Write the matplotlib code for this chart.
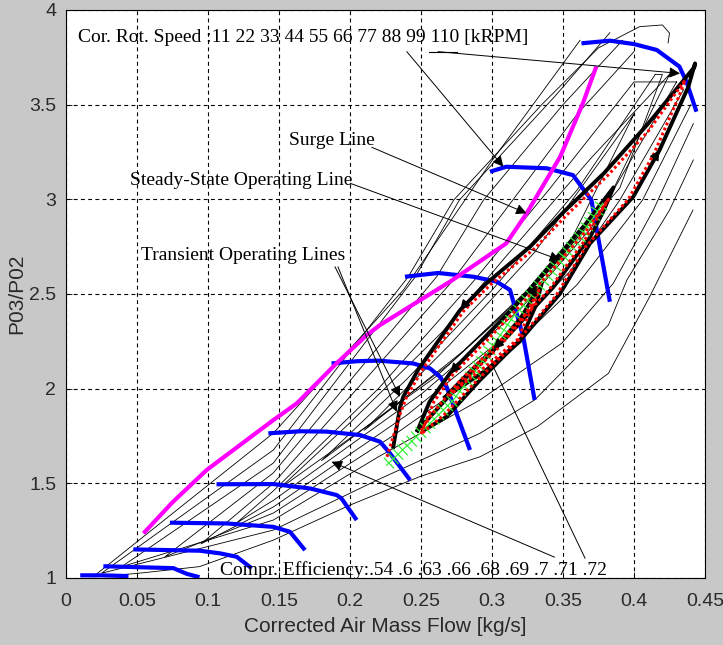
import matplotlib
matplotlib.use('Agg')
import matplotlib.pyplot as plt
import matplotlib.patheffects as pe

# compressor speed lines, 11 ... 110 kRPM
speed_labels = [11, 22, 33, 44, 55, 66, 77, 88, 99, 110]
speed_x = [
    [0.010, 0.025, 0.035, 0.044],
    [0.0263, 0.0756, 0.085, 0.094],
    [0.0474, 0.0944, 0.1085, 0.1202, 0.1308],
    [0.0732, 0.1132, 0.146, 0.1577, 0.1683],
    [0.106, 0.146, 0.1718, 0.1906, 0.194, 0.2047],
    [0.1425, 0.165, 0.1836, 0.207, 0.2211, 0.2282, 0.2423],
    [0.187, 0.205, 0.22, 0.2446, 0.2563, 0.2634, 0.268, 0.2845],
    [0.2387, 0.262, 0.287, 0.3033, 0.3127, 0.322, 0.330],
    [0.2986, 0.310, 0.3385, 0.357, 0.363, 0.370, 0.383],
    [0.363, 0.383, 0.400, 0.416, 0.432, 0.437, 0.444],
]
speed_y = [
    [1.014, 1.014, 1.012, 1.010],
    [1.062, 1.052, 1.022, 1.004],
    [1.151, 1.144, 1.130, 1.112, 1.051],
    [1.292, 1.288, 1.270, 1.244, 1.147],
    [1.495, 1.496, 1.473, 1.438, 1.420, 1.306],
    [1.764, 1.775, 1.773, 1.755, 1.720, 1.658, 1.517],
    [2.133, 2.145, 2.148, 2.133, 2.107, 2.063, 2.010, 1.676],
    [2.591, 2.611, 2.591, 2.565, 2.521, 2.274, 1.940],
    [3.146, 3.172, 3.164, 3.128, 3.067, 2.996, 2.459],
    [3.824, 3.838, 3.820, 3.789, 3.701, 3.620, 3.463],
]

# surge line
surge_x = [0.0556, 0.075, 0.099, 0.146, 0.1625, 0.19, 0.2118, 0.2211,
           0.2704, 0.310, 0.3244, 0.348, 0.364, 0.373]
surge_y = [1.244, 1.40, 1.57, 1.834, 1.922, 2.13, 2.283, 2.336,
           2.565, 2.767, 2.926, 3.225, 3.507, 3.692]

# efficiency contours .54 .6 .63 .66 .68 .69 .7 .71 .72
eff_levels = [.54, .6, .63, .66, .68, .69, .7, .71, .72]
eff_x = [
    [0.362, 0.2986, 0.2375, 0.146, 0.019, 0.05, 0.094, 0.146, 0.2, 0.249,
     0.2915, 0.332, 0.382, 0.411, 0.4415],
    [0.424, 0.425, 0.420, 0.404, 0.375, 0.335, 0.273, 0.241, 0.146, 0.025,
     0.146, 0.22, 0.2915, 0.330, 0.382, 0.395, 0.425, 0.4418],
    [0.383, 0.345, 0.277, 0.246, 0.146, 0.039, 0.146, 0.22, 0.2915, 0.349,
     0.3854, 0.4136, 0.4418],
    [0.392, 0.35, 0.294, 0.261, 0.146, 0.0697, 0.146, 0.23, 0.30, 0.36,
     0.406, 0.44],
    [0.40, 0.36, 0.31, 0.27, 0.146, 0.095, 0.146, 0.24, 0.31, 0.355,
     0.390, 0.435],
    [0.43, 0.40, 0.34, 0.285, 0.22, 0.146, 0.12, 0.146, 0.25, 0.32, 0.37,
     0.43],
    [0.425, 0.37, 0.31, 0.265, 0.20, 0.15, 0.26, 0.33, 0.38, 0.425],
    [0.415, 0.36, 0.30, 0.24, 0.18, 0.27, 0.34, 0.39, 0.42, 0.415],
    [0.40, 0.33, 0.27, 0.21, 0.28, 0.35, 0.40],
]
eff_y = [
    [3.84, 3.19, 2.52, 1.765, 1.006, 1.024, 1.06, 1.20, 1.385, 1.535,
     1.64, 1.80, 2.081, 2.485, 2.943],
    [3.826, 3.878, 3.921, 3.912, 3.80, 3.50, 2.996, 2.591, 1.676, 1.025,
     1.253, 1.52, 1.764, 1.94, 2.336, 2.574, 2.943, 3.208],
    [3.88, 3.55, 2.996, 2.591, 1.607, 1.059, 1.306, 1.64, 1.94, 2.239,
     2.556, 2.943, 3.40],
    [3.84, 3.50, 2.996, 2.591, 1.555, 1.112, 1.343, 1.75, 2.12, 2.55,
     2.996, 3.50],
    [3.78, 3.45, 2.95, 2.55, 1.50, 1.18, 1.375, 1.86, 2.28, 2.62,
     2.996, 3.58],
    [3.62, 3.62, 3.05, 2.55, 2.0, 1.46, 1.29, 1.41, 1.97, 2.42, 2.85,
     3.62],
    [3.66, 3.22, 2.70, 2.30, 1.82, 1.47, 2.06, 2.54, 2.97, 3.66],
    [3.66, 3.05, 2.52, 2.05, 1.62, 2.13, 2.62, 3.06, 3.66, 3.66],
    [3.45, 2.72, 2.23, 1.78, 2.20, 2.70, 3.45],
]

# steady-state operating line
ss_x = [0.2258, 0.2493, 0.2728, 0.2915, 0.315, 0.3385, 0.362, 0.378]
ss_y = [1.596, 1.764, 1.94, 2.13, 2.38, 2.59, 2.80, 2.979]

# transient operating lines (three load steps)
trA_x = [0.2305, 0.2329, 0.2352, 0.2375, 0.248, 0.261, 0.2775, 0.296, 0.327,
         0.35, 0.379, 0.41, 0.4425, 0.443, 0.4383, 0.418, 0.3995, 0.369,
         0.348, 0.322, 0.2915, 0.268, 0.252]
trA_y = [1.693, 1.80, 1.90, 1.957, 2.10, 2.239, 2.415, 2.556, 2.751,
         2.93, 3.139, 3.40, 3.698, 3.718, 3.595, 3.26, 3.014, 2.767,
         2.503, 2.274, 2.045, 1.852, 1.78]
trB_x = [0.2476, 0.256, 0.2704, 0.2947, 0.318, 0.343, 0.366, 0.3856,
         0.378, 0.369, 0.343, 0.311, 0.278, 0.255, 0.2476]
trB_y = [1.78, 1.93, 2.081, 2.27, 2.45, 2.67, 2.87, 3.063,
         2.93, 2.80, 2.535, 2.277, 2.03, 1.84, 1.78]
trC_x = [0.267, 0.2845, 0.303, 0.32, 0.335, 0.3315, 0.3197, 0.296, 0.267]
trC_y = [1.955, 2.09, 2.221, 2.37, 2.557, 2.45, 2.25, 2.098, 1.955]

# simulated transients (red dotted)
rdA_x = [0.226, 0.231, 0.235, 0.240, 0.251, 0.264, 0.280, 0.299, 0.330,
         0.353, 0.382, 0.410, 0.436, 0.432, 0.414, 0.396, 0.366, 0.345,
         0.319, 0.289, 0.266, 0.250]
rdA_y = [1.64, 1.76, 1.86, 1.96, 2.10, 2.24, 2.41, 2.55, 2.74,
         2.92, 3.13, 3.36, 3.63, 3.55, 3.24, 3.00, 2.75, 2.49,
         2.26, 2.04, 1.86, 1.76]
rdB_x = [0.250, 0.259, 0.273, 0.297, 0.320, 0.345, 0.367, 0.382,
         0.374, 0.365, 0.340, 0.308, 0.276, 0.257, 0.250]
rdB_y = [1.76, 1.93, 2.08, 2.26, 2.44, 2.65, 2.84, 3.00,
         2.90, 2.78, 2.52, 2.27, 2.03, 1.86, 1.78]
rdC_x = [0.270, 0.287, 0.305, 0.322, 0.333, 0.329, 0.318, 0.296, 0.270]
rdC_y = [1.96, 2.09, 2.22, 2.37, 2.52, 2.44, 2.26, 2.12, 1.97]

xticks = [0, 0.05, 0.1, 0.15, 0.2, 0.25, 0.3, 0.35, 0.4, 0.45]
xtick_labels = ['0', '0.05', '0.1', '0.15', '0.2', '0.25', '0.3', '0.35', '0.4', '0.45']
yticks = [1, 1.5, 2, 2.5, 3, 3.5, 4]
ytick_labels = ['1', '1.5', '2', '2.5', '3', '3.5', '4']

sans = ['Liberation Sans', 'DejaVu Sans']
serif = ['Liberation Serif', 'DejaVu Serif']

fig = plt.figure(figsize=(7.23, 6.45), dpi=100, facecolor='#c8c8c8')
ax = fig.add_axes([0.0913, 0.1039, 0.8838, 0.8806])
ax.set_facecolor('white')

for xs, ys in zip(eff_x, eff_y):
    ax.plot(xs, ys, color='k', lw=0.6, zorder=1)

for xs, ys in zip(speed_x, speed_y):
    ax.plot(xs, ys, color='#0000ff', lw=3, solid_capstyle='butt', zorder=2)

ax.plot(surge_x, surge_y, color='#ff00ff', lw=3, zorder=2)

for xs, ys in [(trA_x, trA_y), (trB_x, trB_y), (trC_x, trC_y)]:
    ax.plot(xs, ys, color='k', lw=2.8, zorder=4)

# steady-state line with cross hatching
ticks = [pe.TickedStroke(angle=90, spacing=4.5, length=1.1),
         pe.TickedStroke(angle=-90, spacing=4.5, length=1.1), pe.Normal()]
ax.plot(ss_x, ss_y, color='#33f033', lw=0.9, path_effects=ticks, zorder=4.5)

for xs, ys in [(rdA_x, rdA_y), (rdB_x, rdB_y), (rdC_x, rdC_y)]:
    ax.plot(xs, ys, color='#ff0000', lw=2.2, ls=(0, (0.9, 0.9)), zorder=5)

# direction markers on the transient lines
head = dict(arrowstyle='-|>', color='k', lw=1, mutation_scale=15,
            shrinkA=0, shrinkB=0)
for tail, tip in [((0.2815, 2.45), (0.2775, 2.415)),
                  ((0.4155, 3.23), (0.418, 3.26)),
                  ((0.274, 2.11), (0.2704, 2.081)),
                  ((0.329, 2.51), (0.3315, 2.547)),
                  ((0.305, 2.24), (0.301, 2.21))]:
    ax.annotate('', xy=tip, xytext=tail, arrowprops=head, zorder=6)

# labels and pointers
txt = dict(family=serif, fontsize=14, va='center', ha='left', zorder=7)
ax.text(0.0085, 3.857, 'Cor. Rot. Speed :11 22 33 44 55 66 77 88 99 110 [kRPM]', **txt)
ax.text(0.157, 3.313, 'Surge Line', **txt)
ax.text(0.045, 3.102, 'Steady-State Operating Line', **txt)
ax.text(0.0526, 2.703, 'Transient Operating Lines', **txt)
ax.text(0.1085, 1.042, 'Compr. Efficiency:.54 .6 .63 .66 .68 .69 .7 .71 .72', **txt)

pointer = dict(arrowstyle='-|>', color='k', lw=0.7, mutation_scale=16,
               shrinkA=0, shrinkB=0)
for start, end in [((0.240, 3.78), (0.308, 3.172)),
                   ((0.262, 3.78), (0.4324, 3.665)),
                   ((0.2153, 3.275), (0.3244, 2.926)),
                   ((0.200, 3.085), (0.348, 2.679)),
                   ((0.1894, 2.644), (0.2352, 1.957)),
                   ((0.1915, 2.644), (0.2329, 1.878)),
                   ((0.344, 1.11), (0.187, 1.614))]:
    ax.annotate('', xy=end, xytext=start, arrowprops=pointer, zorder=6)
ax.plot([0.3655, 0.30], [1.105, 2.13], color='k', lw=0.7, zorder=3)
# underline below "110"
ax.plot([0.2555, 0.275], [3.78, 3.78], color='k', lw=0.8, zorder=6)

ax.set_xlim(0, 0.45)
ax.set_ylim(1, 4)
ax.set_xticks(xticks)
ax.set_xticklabels(xtick_labels)
ax.set_yticks(yticks)
ax.set_yticklabels(ytick_labels)
ax.tick_params(direction='in', length=4, width=0.6, labelsize=14,
               labelcolor='#2a2a2a')
ax.tick_params(axis='x', pad=11)
ax.tick_params(axis='y', pad=7)
for lab in ax.get_xticklabels() + ax.get_yticklabels():
    lab.set_family(sans)
ax.grid(True, color='k', ls=(0, (3.5, 3)), lw=0.8, zorder=0.5)
ax.set_axisbelow(True)
for sp in ax.spines.values():
    sp.set_linewidth(0.8)

ax.set_xlabel('Corrected Air Mass Flow [kg/s]', family=sans, fontsize=15,
              color='#2a2a2a', labelpad=5)
ax.set_ylabel('P03/P02', family=sans, fontsize=15, color='#2a2a2a', labelpad=2)

fig.savefig('out.png', dpi=100, facecolor=fig.get_facecolor())
